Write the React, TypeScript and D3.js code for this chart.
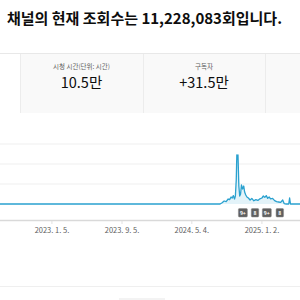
import React from "react";
import * as d3 from "d3";

const width = 300;
const height = 300;

// views series (arbitrary units, gridline step = 1000)
const dates = [
  "2022-07-01", "2024-08-10", "2024-08-17", "2024-08-24", "2024-08-31", "2024-09-07",
  "2024-09-12", "2024-09-17", "2024-09-21", "2024-09-25", "2024-09-29", "2024-10-02",
  "2024-10-05", "2024-10-07", "2024-10-09", "2024-10-11", "2024-10-14", "2024-10-17",
  "2024-10-20", "2024-10-23", "2024-10-27", "2024-10-31", "2024-11-03", "2024-11-07",
  "2024-11-11", "2024-11-16", "2024-11-22", "2024-11-28", "2024-12-05", "2024-12-12",
  "2024-12-19", "2024-12-26", "2025-01-02", "2025-01-07", "2025-01-12", "2025-01-17",
  "2025-01-22", "2025-01-27", "2025-02-01", "2025-02-08", "2025-02-15", "2025-02-22",
  "2025-03-01", "2025-03-08", "2025-03-15", "2025-03-20", "2025-03-27", "2025-04-05",
  "2025-04-08", "2025-04-11", "2025-05-31",
];
const views = [
  0, 0, 60, 150, 120, 250,
  220, 350, 300, 420, 250, 400,
  1200, 2450, 2250, 2450, 900, 400,
  500, 950, 750, 900, 600, 450,
  350, 300, 200, 280, 160, 220,
  180, 260, 300, 400, 330, 420,
  280, 350, 260, 280, 170, 120,
  100, 80, 200, 20, 0, 0,
  300, 0, 0,
];

const tickDates = ["2023-01-05", "2023-09-05", "2024-05-04", "2025-01-02"];
const tickLabels = ["2023. 1. 5.", "2023. 9. 5.", "2024. 5. 4.", "2025. 1. 2."];
const gridValues = [0, 1000, 2000, 3000];

const badgeDates = ["2024-10-28", "2024-12-09", "2025-01-19", "2025-03-05"];
const badgeLabels = ["9+", "8", "9+", "8"];

const cardLabels = ["시청 시간(단위: 시간)", "구독자"];
const cardValues = ["10.5만", "+31.5만"];

const title = "채널의 현재 조회수는 11,228,083회입니다.";

const parse = d3.timeParse("%Y-%m-%d");
const font = "'Noto Sans CJK KR', Roboto, sans-serif";

export default function App() {
  const data = dates.map((d, i) => ({ date: parse(d) as Date, value: views[i] }));

  const x = d3.scaleTime()
    .domain([parse("2022-07-09") as Date, parse("2025-05-14") as Date])
    .range([0, width]);
  const y = d3.scaleLinear().domain([0, 3000]).range([204, 144]);

  const line = d3.line<{ date: Date; value: number }>()
    .x(d => x(d.date))
    .y(d => y(d.value));
  const area = d3.area<{ date: Date; value: number }>()
    .x(d => x(d.date))
    .y0(y(0))
    .y1(d => y(d.value));

  // card columns
  const cardX = [20, 143, 265];

  return (
    <svg width={width} height={height}
      style={{ position: "absolute", left: 0, top: 0, background: "#fff" }}>
      <text x={7} y={24} fontFamily={font} fontWeight={700} fontSize={15}
        fill="#0d0d0d">{title}</text>

      {/* cards */}
      <line x1={0} x2={width} y1={53.5} y2={53.5} stroke="#e8e8e8" />
      <rect x={20} y={54} width={280} height={59} fill="#f9f9f9" />
      {cardX.map((cx, i) => (
        <line key={i} x1={cx + 0.5} x2={cx + 0.5} y1={54} y2={113} stroke="#ececec" />
      ))}
      {cardLabels.map((l, i) => (
        <g key={l}>
          <text x={(cardX[i] + cardX[i + 1]) / 2} y={69} textAnchor="middle"
            fontFamily={font} fontSize={6.5} fill="#606060">{l}</text>
          <text x={(cardX[i] + cardX[i + 1]) / 2} y={87.5} textAnchor="middle"
            fontFamily={font} fontSize={14.5} fill="#0d0d0d">{cardValues[i]}</text>
        </g>
      ))}

      {/* grid */}
      {gridValues.slice(1).map(v => (
        <line key={v} x1={0} x2={width} y1={y(v)} y2={y(v)} stroke="#efefef" />
      ))}
      <line x1={0} x2={width} y1={220.5} y2={220.5} stroke="#d9d9d9" strokeWidth={1.5} />
      {tickDates.map((d, i) => {
        const tx = x(parse(d) as Date);
        return (
          <g key={d}>
            <line x1={tx} x2={tx} y1={221} y2={224} stroke="#e0e0e0" />
            <text x={tx} y={233} textAnchor="middle" fontFamily={font} fontSize={7.5}
              fill="#606060">{tickLabels[i]}</text>
          </g>
        );
      })}

      <path d={area(data) || ""} fill="#e3f3f9" />
      <path d={line(data) || ""} fill="none" stroke="#2aa1cf" strokeWidth={1.3}
        strokeLinejoin="round" />

      {/* badges */}
      {badgeDates.map((d, i) => {
        const bx = x(parse(d) as Date);
        const w = badgeLabels[i].length > 1 ? 9 : 7.5;
        return (
          <g key={d}>
            <rect x={bx - w / 2} y={208.5} width={w} height={8.5} rx={1}
              fill="#5f5f5f" stroke="#8a8a8a" strokeWidth={0.5} />
            <text x={bx} y={214.8} textAnchor="middle" fontFamily={font} fontSize={5}
              fontWeight={700} fill="#fff">{badgeLabels[i]}</text>
          </g>
        );
      })}

      <line x1={0} x2={width} y1={286.5} y2={286.5} stroke="#efefef" />
      <rect x={119} y={298} width={46} height={2} fill="#f3f3f3" />
    </svg>
  );
}
